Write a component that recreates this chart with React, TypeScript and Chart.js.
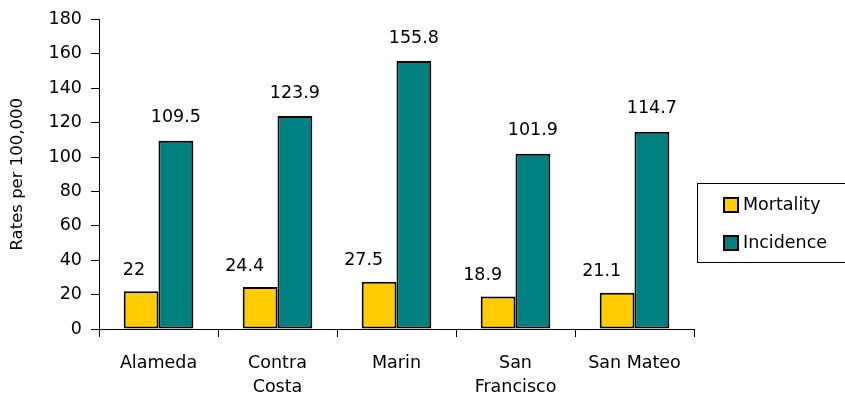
import React, { useEffect, useRef } from "react";
import { Chart, registerables } from "chart.js";

Chart.register(...registerables);

const categories: (string | string[])[] = ["Alameda", ["Contra", "Costa"], "Marin", ["San", "Francisco"], "San Mateo"];
const mortality = [22, 24.4, 27.5, 18.9, 21.1];
const incidence = [109.5, 123.9, 155.8, 101.9, 114.7];
const seriesNames = ["Mortality", "Incidence"];
const seriesColors = ["#FFCC00", "#008080"];
const yTitle = "Rates per 100,000";

const FONT = "'DejaVu Sans', sans-serif";
const FS = 17.5;

const valueLabels = {
  id: "valueLabels",
  afterDatasetsDraw(chart: any) {
    const ctx = chart.ctx;
    ctx.save();
    ctx.font = `${FS}px ${FONT}`;
    ctx.fillStyle = "#000";
    ctx.textBaseline = "middle";
    chart.data.datasets.forEach((ds: any, di: number) => {
      const meta = chart.getDatasetMeta(di);
      meta.data.forEach((bar: any, i: number) => {
        const v = ds.data[i];
        if (di === 0) {
          ctx.textAlign = "right";
          ctx.fillText(String(v), bar.x + 4, bar.y - 21);
        } else {
          ctx.textAlign = "center";
          ctx.fillText(String(v), bar.x, bar.y - 23);
        }
      });
    });
    ctx.restore();
  },
};

const boxLegend = {
  id: "boxLegend",
  afterDraw(chart: any) {
    const ctx = chart.ctx;
    ctx.save();
    const bx = 697.5;
    const by = 183.5;
    const bw = 160;
    const bh = 79;
    ctx.strokeStyle = "#000";
    ctx.lineWidth = 1;
    ctx.strokeRect(bx, by, bw, bh);
    ctx.font = `${FS}px ${FONT}`;
    ctx.textBaseline = "middle";
    ctx.textAlign = "left";
    chart.data.datasets.forEach((ds: any, i: number) => {
      const cy = 205 + i * 38;
      ctx.fillStyle = ds.backgroundColor;
      ctx.fillRect(724, cy - 7, 14, 14);
      ctx.lineWidth = 2;
      ctx.strokeStyle = "#000";
      ctx.strokeRect(724, cy - 7, 14, 14);
      ctx.fillStyle = "#000";
      ctx.fillText(ds.label, 743, cy);
    });
    ctx.restore();
  },
};

export default function App() {
  const ref = useRef<HTMLCanvasElement>(null);
  useEffect(() => {
    document.body.style.margin = "0";
    const chart = new Chart(ref.current!, {
      type: "bar",
      data: {
        labels: categories,
        datasets: [
          {
            label: seriesNames[0],
            data: mortality,
            backgroundColor: seriesColors[0],
            borderColor: "#000",
            borderWidth: 2,
            borderSkipped: false,
            categoryPercentage: 0.585,
            barPercentage: 1,
          },
          {
            label: seriesNames[1],
            data: incidence,
            backgroundColor: seriesColors[1],
            borderColor: "#000",
            borderWidth: 2,
            borderSkipped: false,
            categoryPercentage: 0.585,
            barPercentage: 1,
          },
        ],
      },
      options: {
        responsive: false,
        animation: false,
        layout: { padding: { top: 17, right: 151, bottom: 0, left: 0 } },
        plugins: { legend: { display: false }, tooltip: { enabled: false } },
        scales: {
          x: {
            grid: { display: true, drawOnChartArea: false, tickLength: 8, color: "#000", offset: true },
            border: { display: true, color: "#000", width: 1 },
            ticks: { color: "#000", font: { family: FONT, size: FS, lineHeight: 24 / FS }, padding: 14, maxRotation: 0, autoSkip: false },
            afterFit: (scale: any) => {
              scale.height = 71;
            },
          },
          y: {
            min: 0,
            max: 180,
            grid: { display: true, drawOnChartArea: false, tickLength: 8, color: "#000" },
            border: { display: true, color: "#000", width: 1 },
            ticks: { stepSize: 20, color: "#000", font: { family: FONT, size: FS }, padding: 9 },
            title: { display: true, text: yTitle, color: "#000", font: { family: FONT, size: FS - 1 }, padding: { top: 8, bottom: 0 } },
            afterFit: (scale: any) => {
              scale.width = 99;
            },
          },
        },
      },
      plugins: [valueLabels, boxLegend],
    });
    return () => chart.destroy();
  }, []);
  return (
    <div style={{ width: 845, height: 400 }}>
      <canvas ref={ref} width={845} height={400} />
    </div>
  );
}
